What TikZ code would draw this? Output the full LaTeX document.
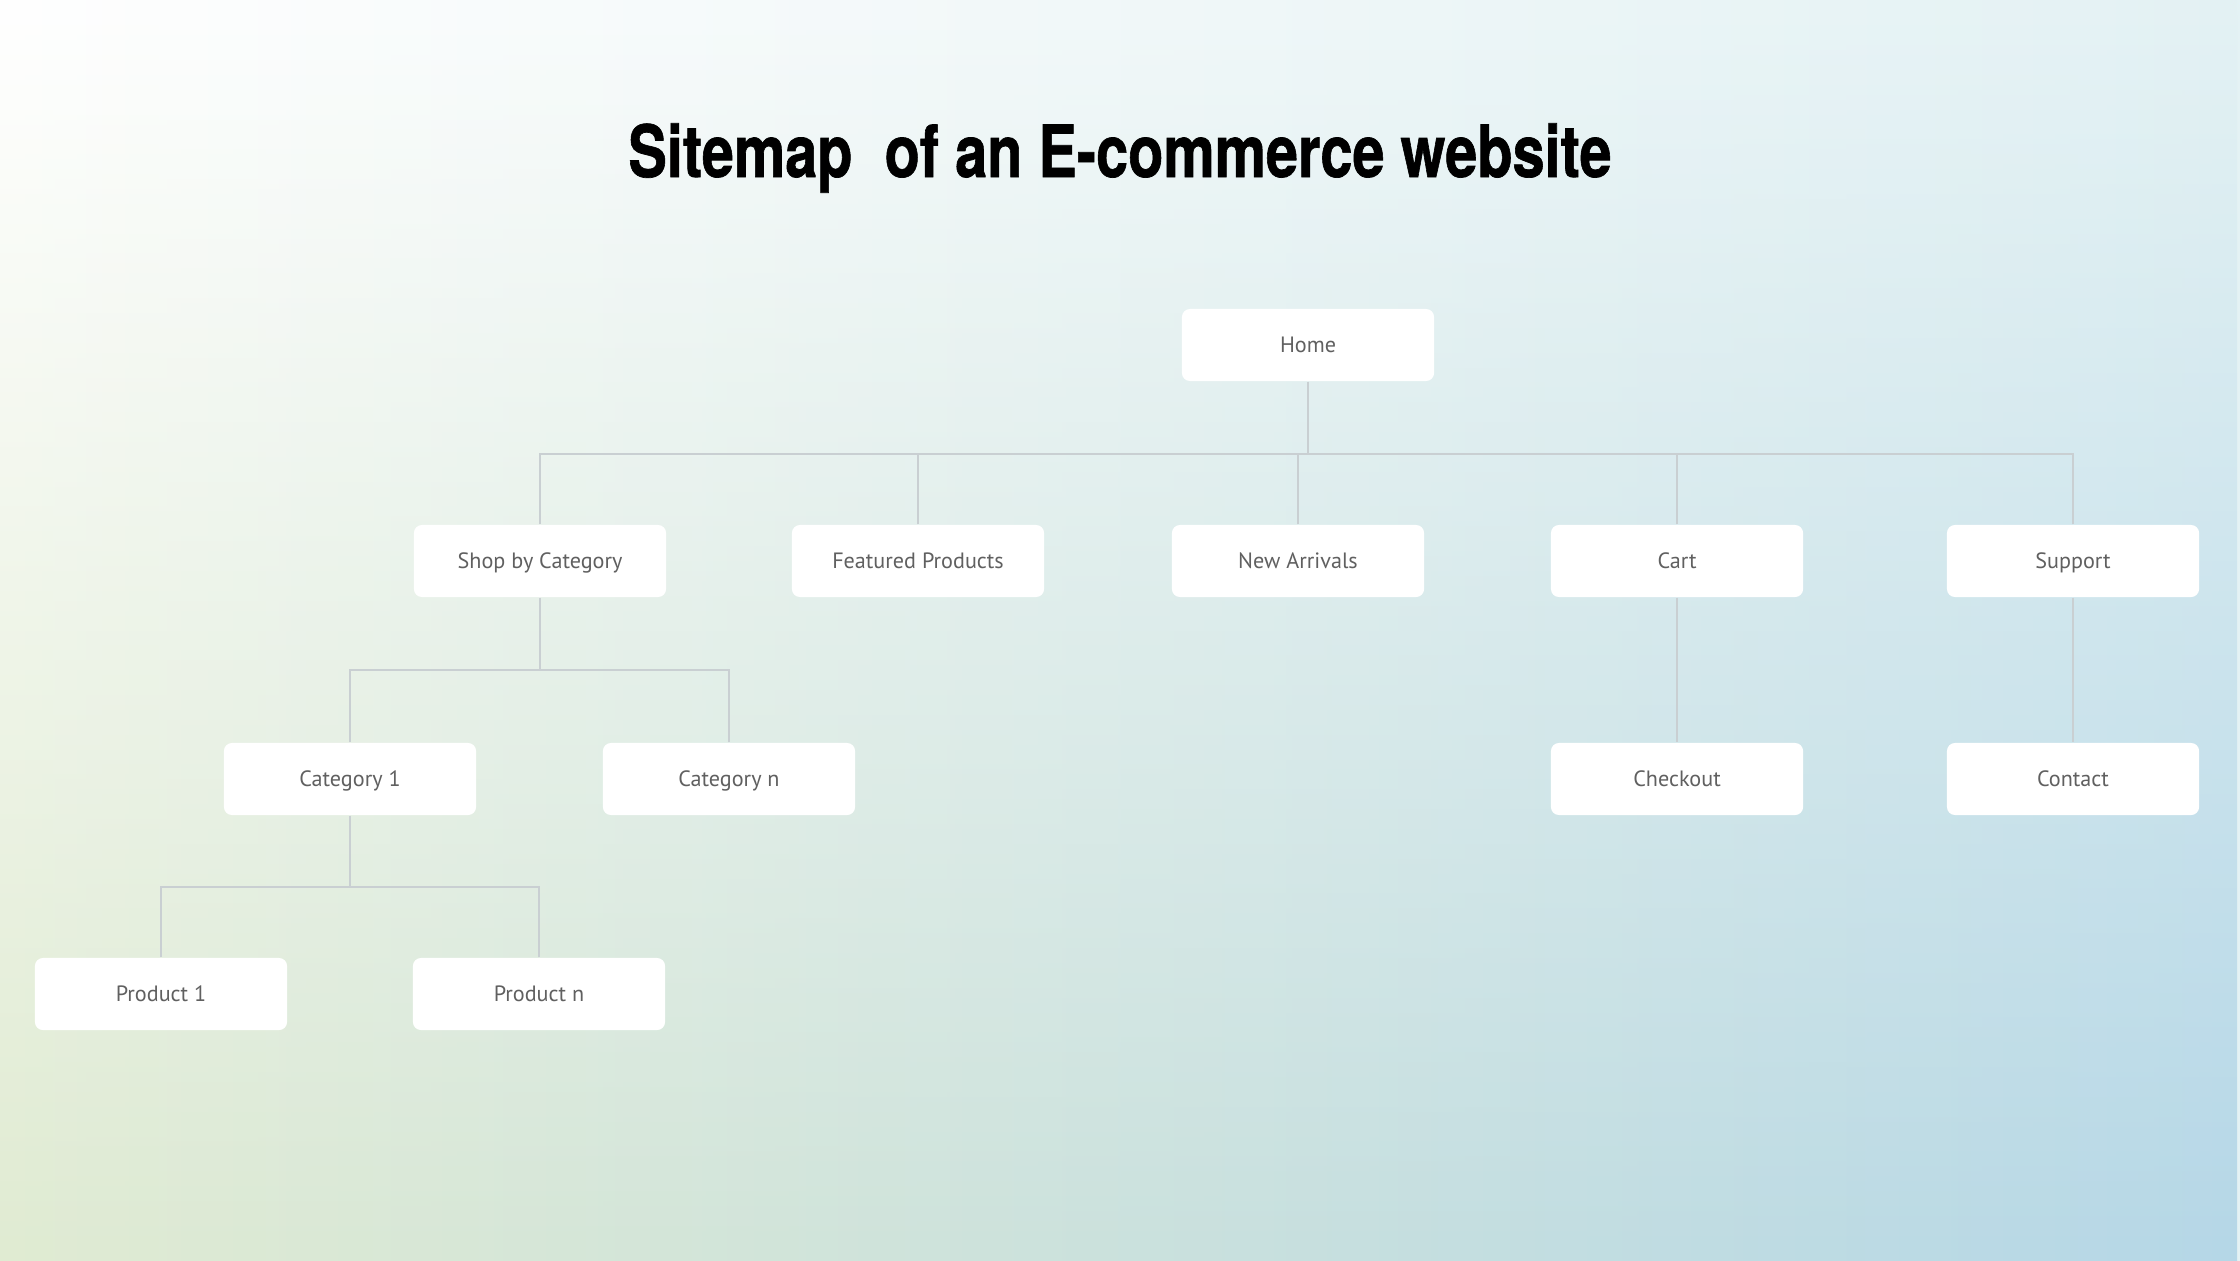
\documentclass[tikz,border=0pt]{standalone}
\usepackage{fontspec}
\usetikzlibrary{fadings}
\newfontfamily\boxfont{PT Sans}
\newfontfamily\titlefont[BoldFeatures={FakeBold=1}]{TeX Gyre Heros}
\definecolor{bgUR}{HTML}{E4F2F4}
\definecolor{bgLL}{HTML}{E0EBD2}
\definecolor{bgLR}{HTML}{B5D7E7}
\definecolor{connc}{HTML}{C9CFD2}
\definecolor{boxtext}{HTML}{606060}
\begin{document}
\begin{tikzpicture}[x=0.01cm,y=-0.01cm,
  pagebox/.style={fill=white, rounded corners=0.08cm, minimum width=2.52cm, minimum height=0.72cm, inner sep=0pt, text height=5.1pt, text depth=0.9pt, text=boxtext, font=\boxfont\fontsize{6.3}{7}\selectfont},
  conn/.style={draw=connc, line width=0.5pt}]
\useasboundingbox (0,0) rectangle (2240,1260);
\shade[left color=white, right color=bgUR] (0,0) rectangle (2240,1260);
\shade[left color=bgLL, right color=bgLR, path fading=north] (0,0) rectangle (2240,1260);

\node[anchor=base, font=\titlefont\bfseries\fontsize{20.5}{24}\selectfont] (title) at (1120,177)
  {\scalebox{0.8}[1]{Sitemap\hspace{0.28em} of an E-commerce website}};

\node[pagebox] (home) at (1308,345) {Home};
\node[pagebox] (shop) at (540,561) {Shop by Category};
\node[pagebox] (feat) at (918,561) {Featured Products};
\node[pagebox] (newa) at (1298,561) {New Arrivals};
\node[pagebox] (cart) at (1677,561) {Cart};
\node[pagebox] (supp) at (2073,561) {Support};
\node[pagebox] (cat1) at (350,779) {Category 1};
\node[pagebox] (catn) at (729,779) {Category n};
\node[pagebox] (chk) at (1677,779) {Checkout};
\node[pagebox] (cont) at (2073,779) {Contact};
\node[pagebox] (p1) at (161,994) {Product 1};
\node[pagebox] (pn) at (539,994) {Product n};

\coordinate (hj) at (1308,454);
\coordinate (sj) at (540,670);
\coordinate (cj) at (350,887);

\draw[conn] (home.south) -- (hj);
\draw[conn] (shop.north) |- (hj);
\draw[conn] (feat.north) |- (hj);
\draw[conn] (newa.north) |- (hj);
\draw[conn] (cart.north) |- (hj);
\draw[conn] (supp.north) |- (hj);

\draw[conn] (shop.south) -- (sj);
\draw[conn] (cat1.north) |- (sj);
\draw[conn] (catn.north) |- (sj);

\draw[conn] (cat1.south) -- (cj);
\draw[conn] (p1.north) |- (cj);
\draw[conn] (pn.north) |- (cj);

\draw[conn] (cart.south) -- (chk.north);
\draw[conn] (supp.south) -- (cont.north);
\end{tikzpicture}
\end{document}
